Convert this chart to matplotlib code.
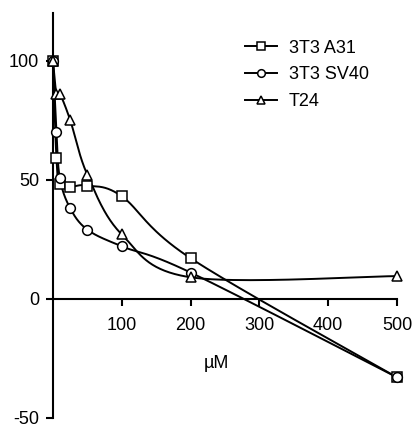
import numpy as np
import matplotlib
matplotlib.use("Agg")
import matplotlib.pyplot as plt

# concentrations (uM) and % values for each cell line
conc = [0, 5, 10, 25, 50, 100, 200, 500]
a31 = [100, 59, 48, 47, 47.5, 43, 17, -33]
sv40 = [100, 70, 50.5, 38, 29, 22, 11, -33]
t24 = [100, 86, 86, 75, 52, 27, 9, 9.5]

series = [("3T3 A31", a31, "s"), ("3T3 SV40", sv40, "o"), ("T24", t24, "^")]

yticks = [-50, 0, 50, 100]
xticks = [100, 200, 300, 400, 500]


def smooth(x, y, n=40):
    """Bezier smoothing through every point, like a spreadsheet smoothed line"""
    p = np.column_stack([x, y]).astype(float)
    ext = np.vstack([p[0], p, p[-1]])
    t = np.linspace(0, 1, n)[:, None]
    out = []
    for i in range(len(p) - 1):
        p0, p1 = p[i], p[i + 1]
        c1 = p0 + (ext[i + 2] - ext[i]) / 6
        c2 = p1 - (ext[i + 3] - ext[i + 1]) / 6
        seg = ((1 - t) ** 3) * p0 + 3 * ((1 - t) ** 2) * t * c1 \
            + 3 * (1 - t) * t ** 2 * c2 + t ** 3 * p1
        out.append(seg)
    out = np.vstack(out)
    return out[:, 0], out[:, 1]


plt.rcParams["font.family"] = ["Liberation Sans", "DejaVu Sans"]
plt.rcParams["axes.unicode_minus"] = False

fig = plt.figure(figsize=(4.12, 4.29), dpi=100)
ax = fig.add_axes([0.1286, 0.026, 0.835, 0.944])

for name, vals, mk in series:
    sx, sy = smooth(conc, vals)
    ax.plot(sx, sy, color="black", lw=1.4, clip_on=False)
    ax.plot(conc, vals, linestyle="none", marker=mk, markersize=7,
            markerfacecolor="white", markeredgecolor="black",
            markeredgewidth=1.1, clip_on=False, zorder=3)
    # legend proxy: line with a smaller marker
    ax.plot([], [], color="black", lw=1.4, marker=mk, markersize=5.5,
            markerfacecolor="white", markeredgecolor="black",
            markeredgewidth=1.1, label=name)

ax.set_xlim(0, 500)
ax.set_ylim(-50, 120)
ax.spines["top"].set_visible(False)
ax.spines["right"].set_visible(False)
ax.spines["bottom"].set_position(("data", 0))
ax.spines["left"].set_linewidth(1.5)
ax.spines["bottom"].set_linewidth(1.5)

ax.set_yticks(yticks)
ax.set_xticks(xticks)
ax.tick_params(axis="both", direction="out", length=5, width=1.5,
               labelsize=13)
ax.tick_params(axis="x", pad=8)
ax.tick_params(axis="y", pad=5)

ax.text(238, -27, "\u00b5M", ha="center", va="center", fontsize=13)

ax.legend(loc="upper left", bbox_to_anchor=(0.52, 0.965), frameon=False,
          fontsize=13, handlelength=1.78, handletextpad=0.67,
          labelspacing=0.53, borderaxespad=0.3)

fig.savefig("out.png", dpi=100)
